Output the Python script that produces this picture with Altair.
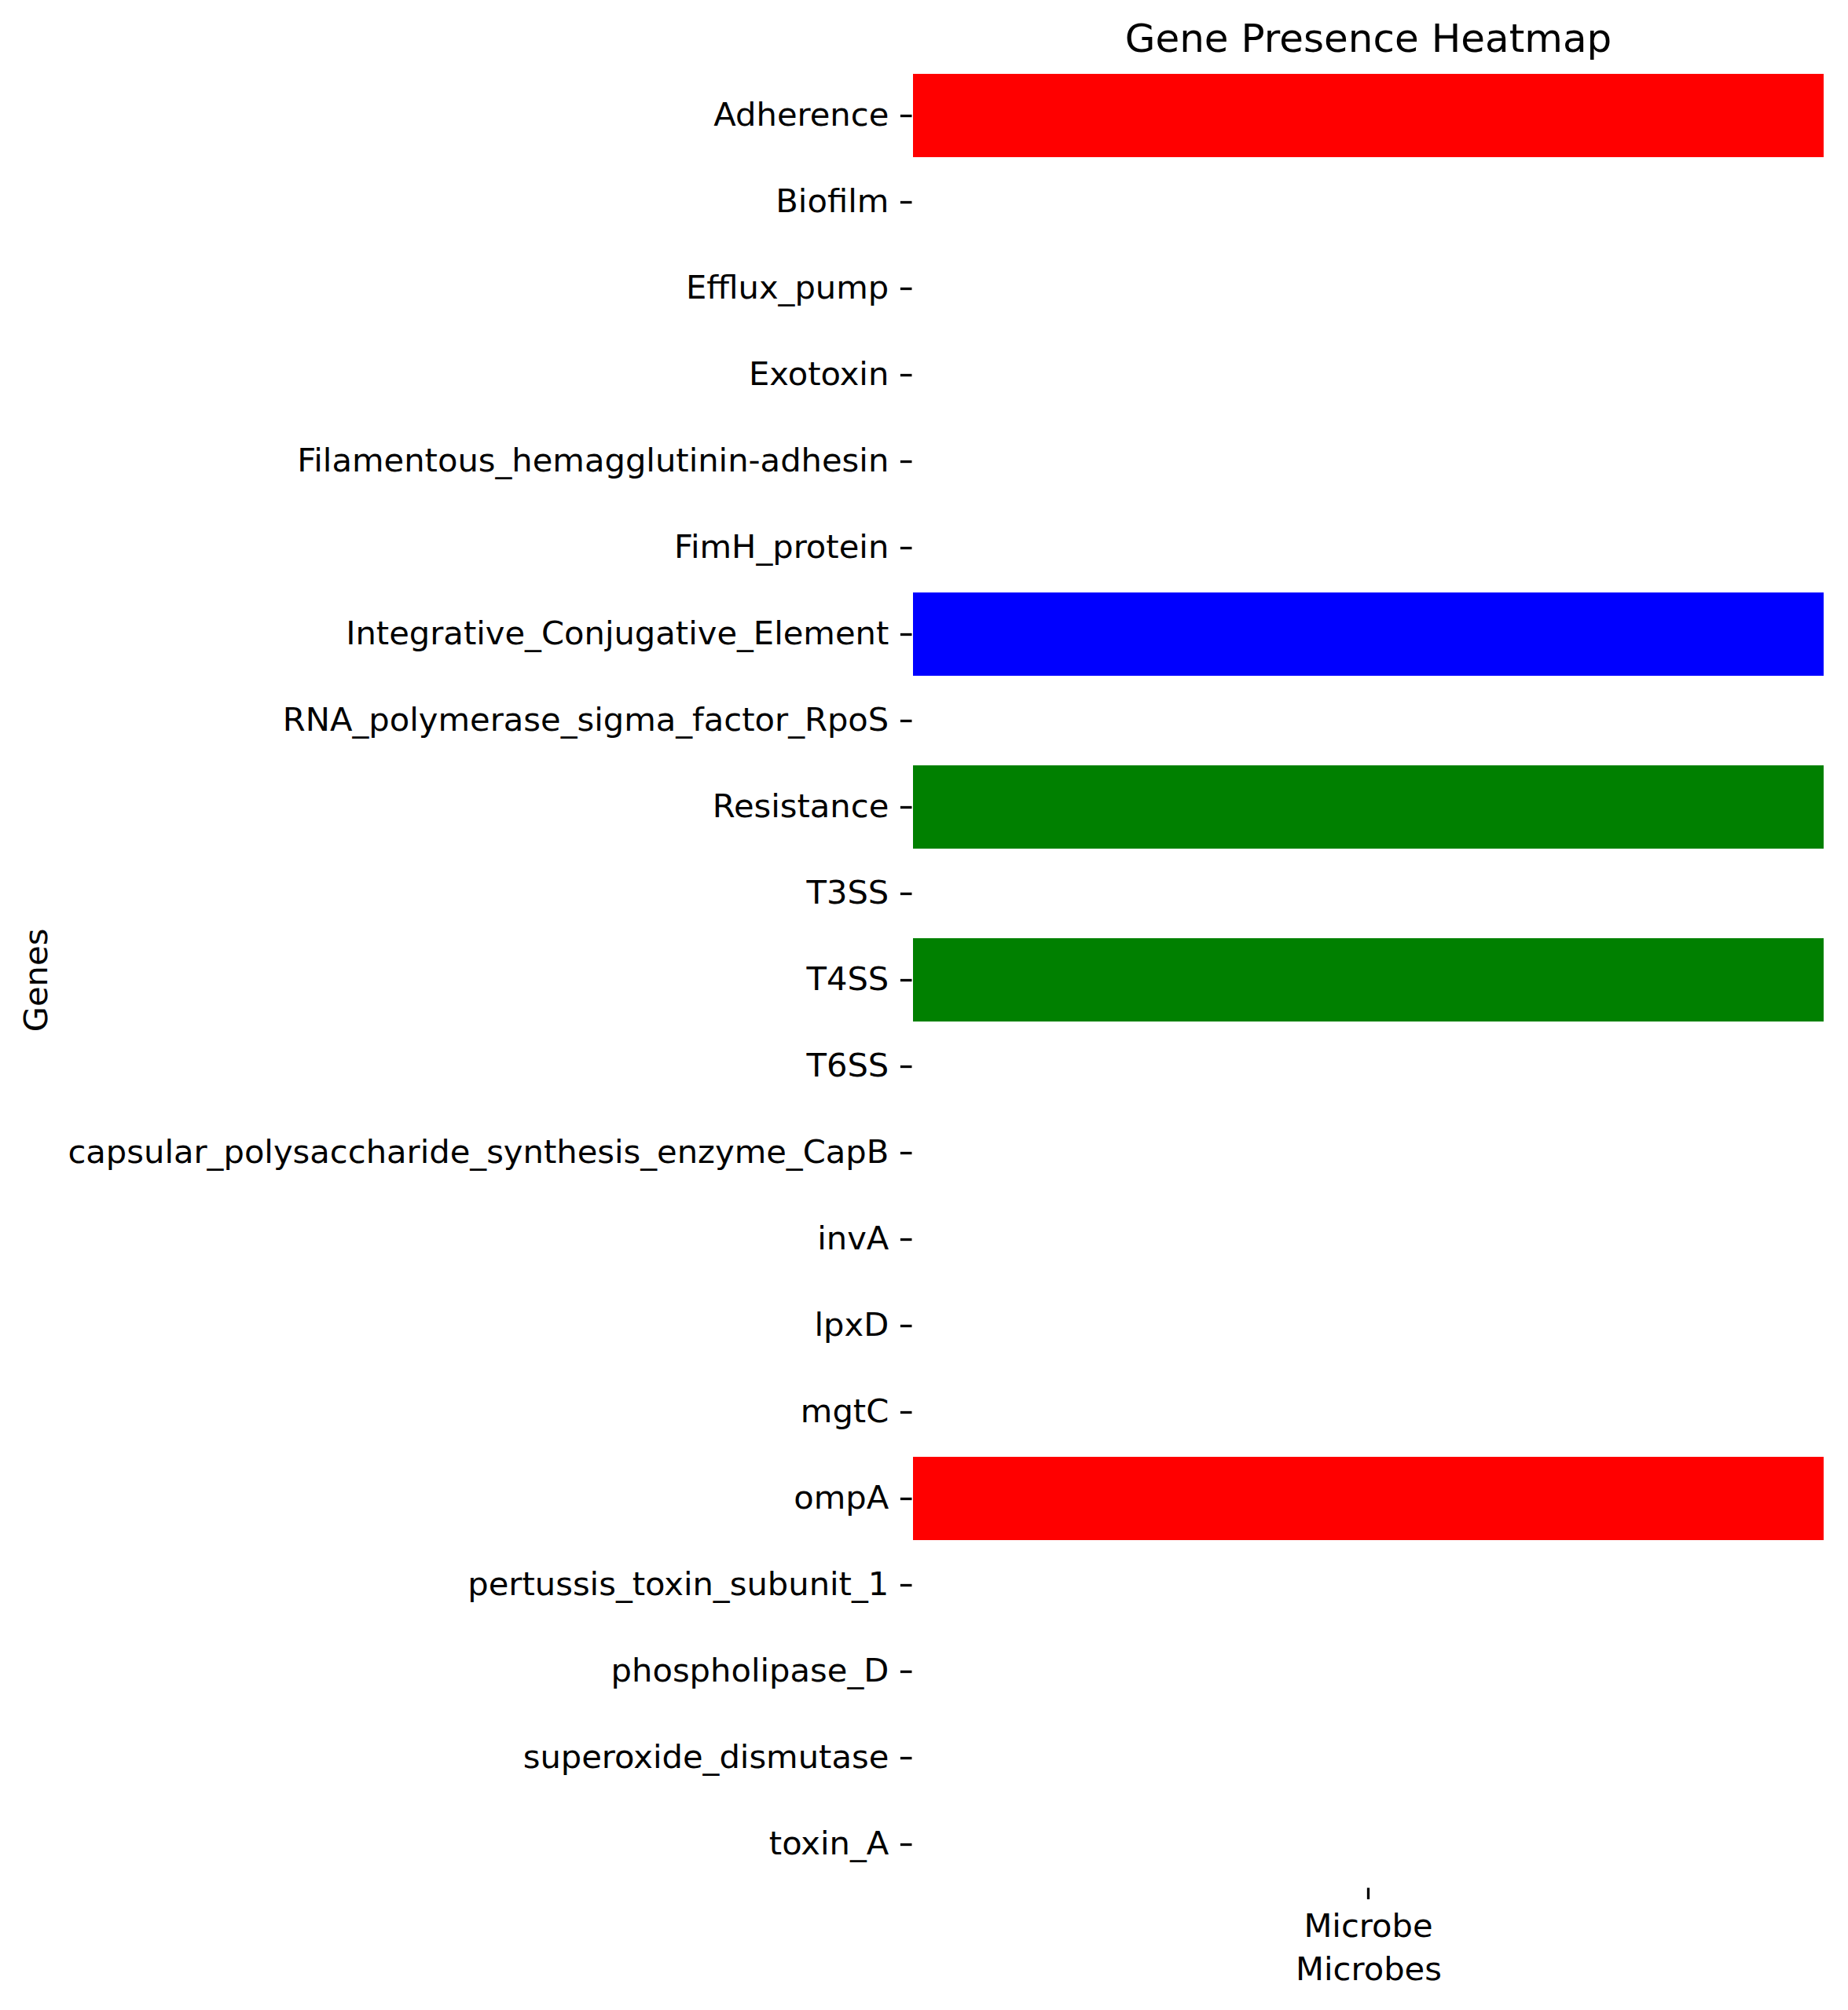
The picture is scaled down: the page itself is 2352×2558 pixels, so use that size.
import altair as alt
import pandas as pd

genes = ["Adherence", "Biofilm", "Efflux_pump", "Exotoxin",
         "Filamentous_hemagglutinin-adhesin", "FimH_protein",
         "Integrative_Conjugative_Element", "RNA_polymerase_sigma_factor_RpoS",
         "Resistance", "T3SS", "T4SS", "T6SS",
         "capsular_polysaccharide_synthesis_enzyme_CapB", "invA", "lpxD", "mgtC",
         "ompA", "pertussis_toxin_subunit_1", "phospholipase_D",
         "superoxide_dismutase", "toxin_A"]
microbes = ["Microbe"]
# 0 = absent, 1/2/3 = present (colour group)
presence = [1, 0, 0, 0, 0, 0, 2, 0, 3, 0, 3, 0, 0, 0, 0, 0, 1, 0, 0, 0, 0]
levels = ["0", "1", "2", "3"]
level_colors = ["#ffffff", "#ff0000", "#0000ff", "#008000"]

df = pd.DataFrame({
    "Genes": genes,
    "Microbes": microbes * len(genes),
    "code": [str(v) for v in presence],
})

FONT = "DejaVu Sans"
FS = 41.67

chart = alt.Chart(df).mark_rect(stroke="white", strokeWidth=4).encode(
    x=alt.X("Microbes:N", title="Microbes",
            axis=alt.Axis(labelAngle=0, titlePadding=14)),
    y=alt.Y("Genes:N", sort=genes, title="Genes",
            axis=alt.Axis(labelLimit=0, titleX=-1092, titleY=1155,
                          titleAngle=-90, titleBaseline="bottom", titleAlign="center")),
    color=alt.Color("code:N", scale=alt.Scale(domain=levels, range=level_colors),
                    legend=None),
).properties(
    width=1163,
    height=2310,
    title=alt.TitleParams("Gene Presence Heatmap", font=FONT, fontSize=50,
                          fontWeight="normal", anchor="middle", baseline="alphabetic",
                          offset=25, dy=51, color="black"),
    autosize=alt.AutoSizeParams(type="none"),
    padding={"left": 1160, "top": 92, "right": 29, "bottom": 156},
).configure_view(
    stroke=None
).configure_axis(
    domain=False,
    labelFont=FONT, labelFontSize=FS, labelColor="black",
    titleFont=FONT, titleFontSize=FS, titleFontWeight="normal", titleColor="black",
    tickSize=14.6, tickWidth=3.3, tickColor="black",
    labelPadding=14.6, grid=False,
).configure_scale(
    bandPaddingInner=0, bandPaddingOuter=0
)

chart.save("out.html", embed_options={"renderer": "svg", "actions": False})
